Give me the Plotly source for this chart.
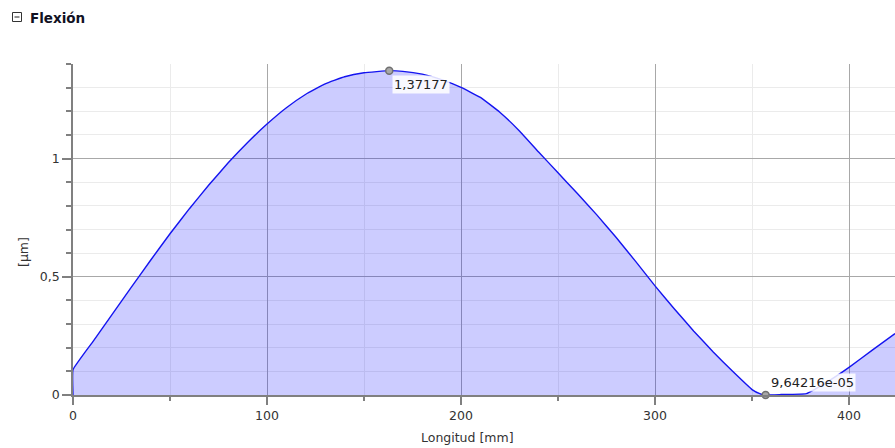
import plotly.graph_objects as go

# ---- data ----
longitud_mm = [0, 0, 10, 20, 30, 40, 50, 60, 70, 80, 90, 100, 110, 120, 130, 140,
               150, 163, 170, 180, 190, 200, 210, 220, 230, 240, 250, 260, 270,
               280, 290, 300, 310, 320, 330, 340, 350, 354, 357, 365, 378, 390,
               400, 412, 423.7]
flexion_um = [0, 0.107, 0.223, 0.339, 0.455, 0.570, 0.682, 0.788, 0.888, 0.982,
              1.068, 1.146, 1.215, 1.272, 1.316, 1.346, 1.363, 1.37177, 1.369,
              1.357, 1.334, 1.301, 1.259, 1.196, 1.118, 1.028, 0.94, 0.852, 0.762,
              0.666, 0.565, 0.4615, 0.364, 0.27, 0.182, 0.1, 0.023, 0.006,
              0.0000964216, 0.002, 0.006, 0.062, 0.117, 0.19, 0.26]

extremos_x = [163, 357]
extremos_y = [1.37177, 9.64216e-05]
extremos_txt = ["1,37177", "9,64216e-05"]

x_ticks = [0, 100, 200, 300, 400]
y_ticks = [0, 0.5, 1]

FONT = "DejaVu Sans"
W, H = 895, 448
L, T, B, R = 73, 64, 53, 0
pw, ph = W - L - R, H - T - B


def px2paper(px, py):
    return (px - L) / pw, (H - B - py) / ph


fig = go.Figure()
fig.add_trace(go.Scatter(
    x=longitud_mm, y=flexion_um, mode="lines",
    line=dict(color="#1414f0", width=1.4, shape="spline", smoothing=0.3),
    fill="tozeroy", fillcolor="rgba(0,0,255,0.2)",
    hoverinfo="skip", showlegend=False,
))
fig.add_trace(go.Scatter(
    x=extremos_x, y=extremos_y, mode="markers",
    marker=dict(size=7, color="#a8a8a8", line=dict(color="#707070", width=1.5)),
    showlegend=False, cliponaxis=False, hoverinfo="skip",
))

# value labels
anch = [("left", "top", 3, -4), ("left", "bottom", 3, 3)]
for (xa, ya, xs, ys), xv, yv, t in zip(anch, extremos_x, extremos_y, extremos_txt):
    fig.add_annotation(x=xv, y=yv, text=t, showarrow=False, xanchor=xa, yanchor=ya,
                       xshift=xs, yshift=ys, bgcolor="rgba(255,255,255,0.85)",
                       borderpad=1, font=dict(family=FONT, size=13, color="#222"))

# section title with collapse icon
tx, ty = px2paper(28, 8)
fig.add_annotation(x=tx, y=ty, xref="paper", yref="paper", text="<b>Flexión</b>",
                   showarrow=False, xanchor="left", yanchor="top",
                   font=dict(family=FONT, size=13.5, color="#111122"))
x0, y0 = px2paper(12.5, 21.5)
x1, y1 = px2paper(21.5, 12.5)
fig.add_shape(type="rect", xref="paper", yref="paper", x0=x0, y0=y0, x1=x1, y1=y1,
              line=dict(color="#333333", width=1), fillcolor="white")
lx0, ly = px2paper(14.5, 17)
lx1, _ = px2paper(19.5, 17)
fig.add_shape(type="line", xref="paper", yref="paper", x0=lx0, y0=ly, x1=lx1, y1=ly,
              line=dict(color="#222222", width=1))

# axis titles
ax, ay = px2paper(467, 437)
fig.add_annotation(text="Longitud [mm]", xref="paper", yref="paper", x=ax, y=ay,
                   xanchor="center", yanchor="middle",
                   showarrow=False, font=dict(family=FONT, size=12.5, color="#333"))
bx, by = px2paper(24, 252)
fig.add_annotation(text="[µm]", xref="paper", yref="paper", x=bx, y=by, textangle=-90,
                   xanchor="center", yanchor="middle",
                   showarrow=False, font=dict(family=FONT, size=12.5, color="#333"))

axis_common = dict(
    showline=True, linecolor="#808080", linewidth=1.5,
    ticks="outside", tickcolor="#808080", tickwidth=1.5,
    gridcolor="#a8a8a8", gridwidth=1, zeroline=False,
    tickfont=dict(family=FONT, size=12.5, color="#333"),
)
fig.update_xaxes(range=[0, 423.7], tickvals=x_ticks, ticklen=8,
                 minor=dict(dtick=50, tick0=0, ticklen=4, ticks="outside",
                            tickcolor="#808080", showgrid=True, gridcolor="#ebebeb"),
                 **axis_common)
fig.update_yaxes(range=[0, 1.4], tickvals=y_ticks, ticklen=9,
                 minor=dict(dtick=0.1, tick0=0, ticklen=5, ticks="outside",
                            tickcolor="#808080", showgrid=True, gridcolor="#ebebeb"),
                 **axis_common)

fig.update_layout(
    width=W, height=H, margin=dict(l=L, r=R, t=T, b=B, autoexpand=False),
    paper_bgcolor="white", plot_bgcolor="white",
    separators=",.", font=dict(family=FONT),
)
fig.write_html("out.html", config={"displayModeBar": False},
               post_script="document.body.style.margin='0';document.body.style.overflow='hidden';")
